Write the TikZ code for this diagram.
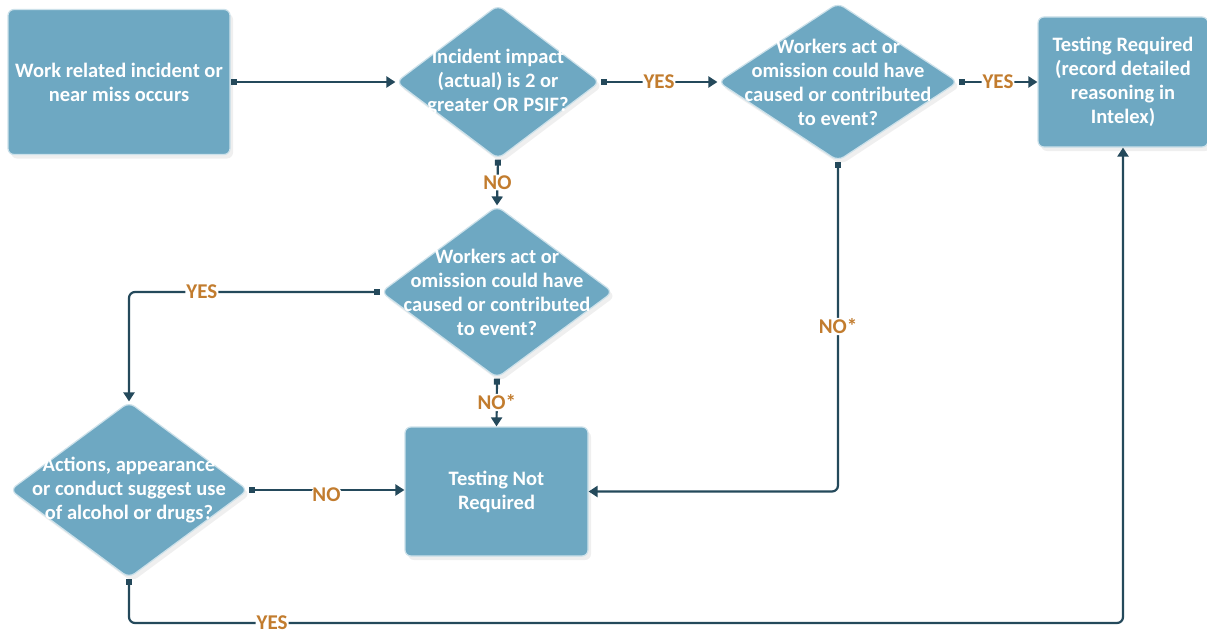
\documentclass[tikz,border=0pt]{standalone}
\usepackage{fontspec}
\setmainfont{Carlito}
\usetikzlibrary{arrows.meta,shapes.geometric,shadows,calc}
\definecolor{boxfill}{HTML}{6EA8C2}
\definecolor{linec}{HTML}{24495B}
\definecolor{labc}{HTML}{C27C2E}
\begin{document}
\begin{tikzpicture}[x=1pt,y=-1pt,
  box/.style={draw=white!65!boxfill, line width=1.2pt, fill=boxfill, rounded corners=6pt, inner sep=0pt,
    drop shadow={shadow xshift=3pt,shadow yshift=-4pt,opacity=0.12}},
  dia/.style={diamond, draw=white!65!boxfill, line width=1.2pt, fill=boxfill, rounded corners=7pt, inner sep=0pt,
    drop shadow={shadow xshift=3pt,shadow yshift=-4pt,opacity=0.12}},
  txt/.style={text=white, font=\fontsize{20.5}{24}\selectfont\bfseries, align=center, inner sep=0pt},
  conn/.style={draw=linec, line width=2.2pt, rounded corners=6pt,
    arrows={Square[length=6pt,width=6pt]-Triangle[length=9pt,width=11pt]}},
  lab/.style={text=labc, font=\fontsize{21}{22}\selectfont\bfseries, fill=white, inner sep=1pt}]
\useasboundingbox (0,0) rectangle (1207,634);
\fill[white] (0,0) rectangle (1207,634);
% nodes
\node[box, minimum width=222pt, minimum height=145pt] (b1) at (119,82) {};
\node[txt] at (b1) {Work related incident or\\near miss occurs};
\node[dia, minimum width=204pt, minimum height=154pt] (d1) at (498,82) {};
\node[txt] at (d1) {Incident impact\\(actual) is 2 or\\greater OR PSIF?};
\node[dia, minimum width=240pt, minimum height=158pt] (d2) at (838,82) {};
\node[txt] at (d2) {Workers act or\\omission could have\\caused or contributed\\to event?};
\node[box, minimum width=170pt, minimum height=130pt] (tr) at (1123,82) {};
\node[txt] at (tr) {Testing Required\\(record detailed\\reasoning in\\Intelex)};
\node[dia, minimum width=232pt, minimum height=172pt] (d3) at (497,292) {};
\node[txt] at (d3) {Workers act or\\omission could have\\caused or contributed\\to event?};
\node[box, minimum width=183pt, minimum height=129pt] (tnr) at (496.5,491.5) {};
\node[txt] at (tnr) {Testing Not\\Required};
\node[dia, minimum width=238pt, minimum height=176pt] (d4) at (129,490) {};
\node[txt] at (d4) {Actions, appearance\\or conduct suggest use\\of alcohol or drugs?};
% connectors
\coordinate (bot) at (0,623);
\draw[conn] (b1.east) -- (b1.east -| d1.west);
\draw[conn] (d1.east) -- node[lab]{YES} (d2.west);
\draw[conn] (d2.east) -- node[lab]{YES} (tr.west);
\draw[conn] (d1.south) -- node[lab]{NO} (d3.north);
\draw[conn] (d3.south) -- node[lab]{NO*} (tnr.north);
\draw[conn] (d3.west) -- node[lab,pos=0.71]{YES} (d3.west -| d4.north) -- (d4.north);
\draw[conn] (d4.east) -- node[lab,yshift=-5pt]{NO} (d4.east -| tnr.west);
\draw[conn] (d2.south) |- node[lab,pos=0.25]{NO*} (tnr.east);
\draw[conn] (d4.south) -- (d4.south |- bot) -- node[lab,pos=0.144]{YES} (tr.south |- bot) -- (tr.south);
\end{tikzpicture}
\end{document}
